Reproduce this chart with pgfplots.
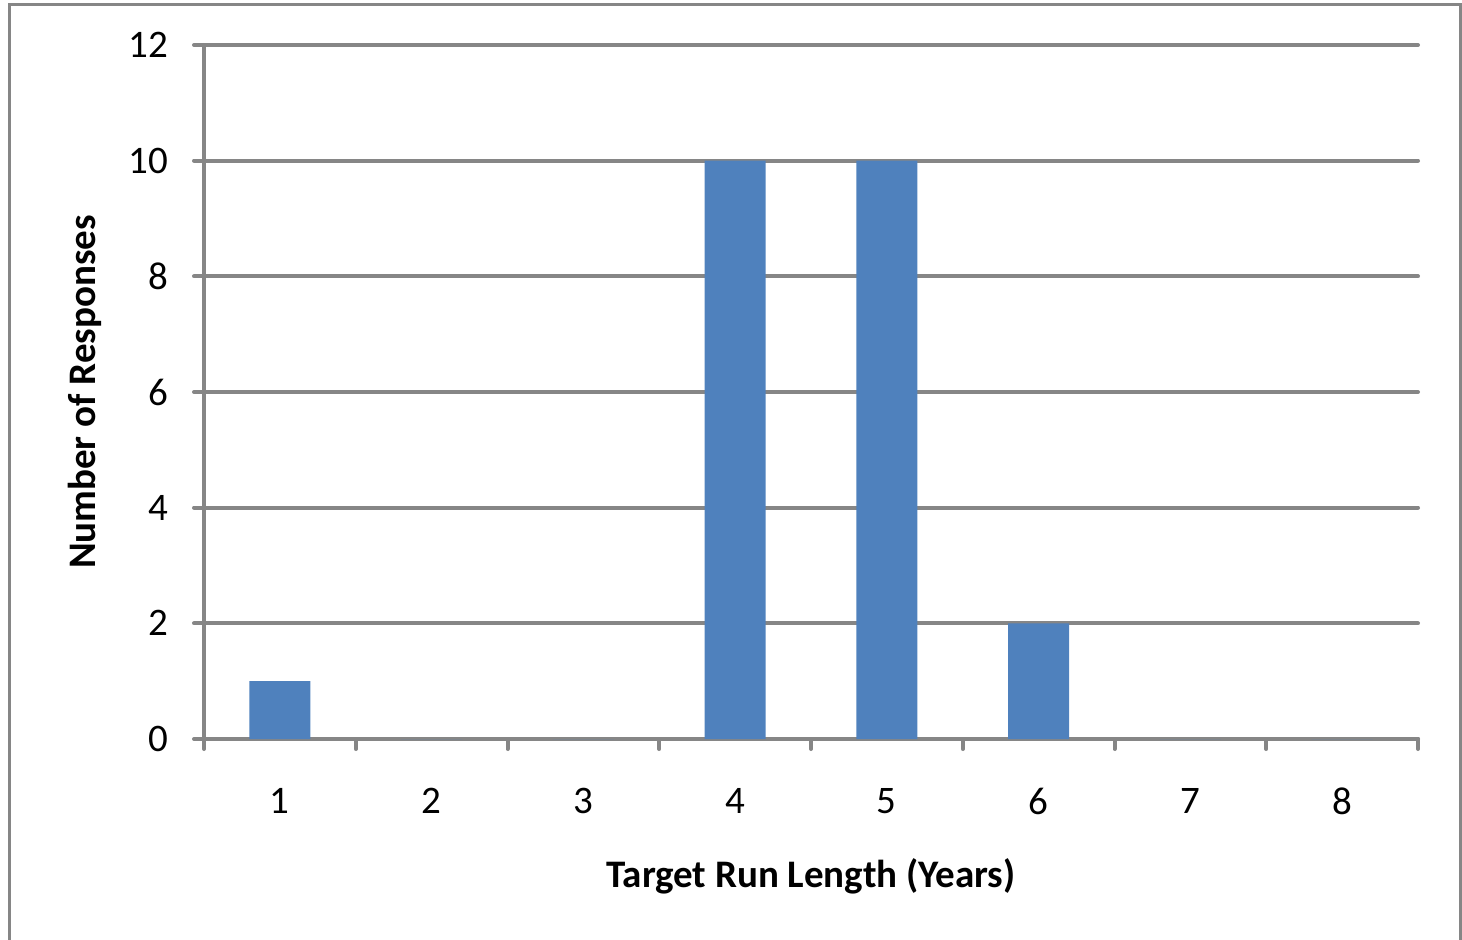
\documentclass[border=0pt]{standalone}
\usepackage{pgfplots}
\pgfplotsset{compat=1.18}
\usepackage{fontspec}
\setmainfont{Carlito}
\definecolor{axgray}{HTML}{868686}
\definecolor{barblue}{HTML}{4F81BD}
\begin{document}
\begin{tikzpicture}[x=1pt,y=1pt]
\useasboundingbox (0,0) rectangle (731,469.5);
% chart frame
\draw[axgray, line width=1.5pt] (4.5,-20) rectangle (730,467);
\begin{axis}[
  at={(102pt,100pt)}, anchor=south west,
  scale only axis, width=607pt, height=347pt,
  xmin=0.5, xmax=8.5, ymin=0, ymax=12,
  axis lines*=left,
  axis line style={axgray, line width=2pt, line cap=round},
  ytick={0,2,...,12},
  xtick={1,...,8},
  minor xtick={0.5,1.5,...,8.5},
  tick align=outside,
  major tick length=5pt, minor tick length=5pt,
  tick style={axgray, line width=2pt, line cap=round},
  major x tick style={draw=none},
  ymajorgrids,
  grid style={axgray, line width=2pt, line cap=round},
  ticklabel style={font=\fontsize{19.5pt}{23pt}\selectfont, text=black},
  /pgf/number format/assume math mode=true,
  yticklabel style={xshift=-9.5pt},
  xticklabel style={yshift=-16pt},
  label style={font=\fontsize{19.5pt}{23pt}\selectfont\bfseries},
  xlabel={Target Run Length (Years)},
  ylabel={Number of Responses},
  xlabel style={at={(axis description cs:0.5,0)}, anchor=center, yshift=-68.5pt},
  ylabel style={at={(axis description cs:0,0.5)}, anchor=center, yshift=59.5pt},
  ybar, bar width=30.5pt,
]
\addplot[fill=barblue, draw=none] coordinates {
  (1,1) (2,0) (3,0) (4,10) (5,10) (6,2) (7,0) (8,0)
};
\end{axis}
\end{tikzpicture}
\end{document}
